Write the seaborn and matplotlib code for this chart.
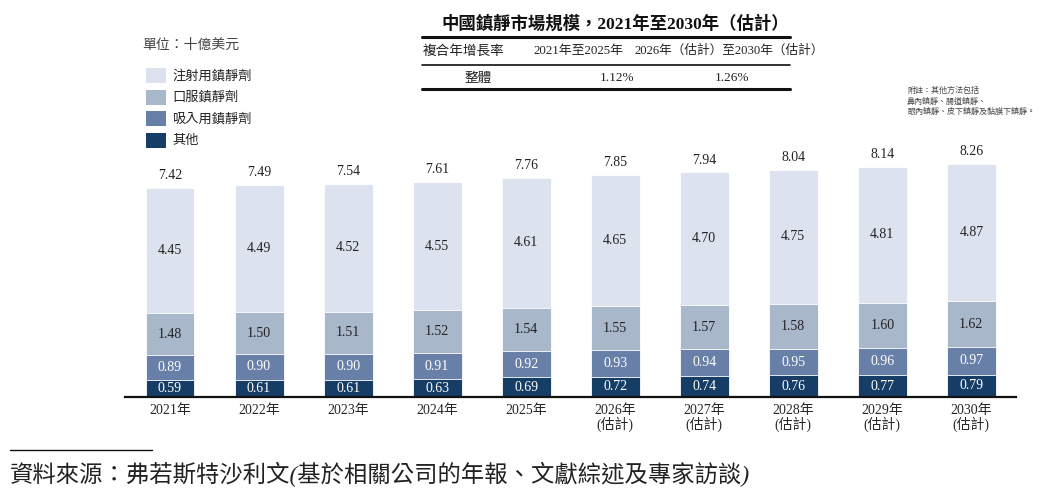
import matplotlib
matplotlib.use("Agg")
import matplotlib.pyplot as plt
import matplotlib.lines as mlines
import matplotlib.patches as mpatches
import numpy as np
import pandas as pd
import seaborn as sns

# data (unit: USD billion)
years = ["2021年", "2022年", "2023年", "2024年", "2025年",
         "2026年\n(估計)", "2027年\n(估計)", "2028年\n(估計)", "2029年\n(估計)", "2030年\n(估計)"]
injection = [4.45, 4.49, 4.52, 4.55, 4.61, 4.65, 4.70, 4.75, 4.81, 4.87]
oral = [1.48, 1.50, 1.51, 1.52, 1.54, 1.55, 1.57, 1.58, 1.60, 1.62]
inhaled = [0.89, 0.90, 0.90, 0.91, 0.92, 0.93, 0.94, 0.95, 0.96, 0.97]
other = [0.59, 0.61, 0.61, 0.63, 0.69, 0.72, 0.74, 0.76, 0.77, 0.79]
totals = [7.42, 7.49, 7.54, 7.61, 7.76, 7.85, 7.94, 8.04, 8.14, 8.26]

series_names = ["注射用鎮靜劑", "口服鎮靜劑", "吸入用鎮靜劑", "其他"]
colors = ["#dde3ee", "#a9b7cb", "#6880a8", "#163d66"]
text_colors = ["#222222", "#222222", "white", "white"]

FONT = ["Liberation Serif", "Noto Sans CJK TC"]
sns.set_style("white")
plt.rcParams["font.family"] = FONT

df = pd.DataFrame({"year": years, "other": other, "inhaled": inhaled,
                   "oral": oral, "injection": injection})
# stacked from the bottom: other, inhaled, oral, injection
stack_order = ["other", "inhaled", "oral", "injection"]
cum = df[stack_order].cumsum(axis=1)

fig = plt.figure(figsize=(10.5, 4.98), dpi=100)
ax = fig.add_axes([0.1195, 0.203, 0.848, 0.488])

# draw tallest cumulative first, then overlay the shorter ones
for col, color in zip(reversed(stack_order), colors):
    sns.barplot(x=df["year"], y=cum[col], color=color, width=0.55,
                edgecolor="white", linewidth=0.6, ax=ax, saturation=1)

# segment labels
for i in range(len(years)):
    bottom = 0
    for col, tc in zip(stack_order, reversed(text_colors)):
        v = df[col][i]
        ax.text(i, bottom + v / 2, f"{v:.2f}", ha="center", va="center",
                fontsize=10, color=tc)
        bottom += v
    ax.text(i, bottom + 0.2, f"{totals[i]:.2f}", ha="center", va="bottom",
            fontsize=10, color="#222222")

ax.set_xlim(-0.5, len(years) - 0.5)
ax.set_ylim(0, 8.6)
ax.set_xlabel("")
ax.set_ylabel("")
ax.set_yticks([])
for s in ["top", "right", "left"]:
    ax.spines[s].set_visible(False)
ax.spines["bottom"].set_color("#111111")
ax.spines["bottom"].set_linewidth(1.6)
ax.tick_params(axis="x", length=0, pad=5, labelsize=10)
for lbl in ax.get_xticklabels():
    lbl.set_linespacing(1.0)

# unit and legend
fig.text(142 / 1050, 1 - 45 / 498, "單位：十億美元", fontsize=10, color="#444444",
         va="center", ha="left")
for k, (name, color) in enumerate(zip(series_names, colors)):
    yc = 1 - (76 + 21.5 * k) / 498
    fig.patches.append(mpatches.Rectangle((146 / 1050, yc - 7.5 / 498), 20 / 1050, 15 / 498,
                                          transform=fig.transFigure, facecolor=color,
                                          edgecolor="none"))
    fig.text(172 / 1050, yc, name, fontsize=9.5, color="#222222", va="center", ha="left")

# title and CAGR table
fig.text(615 / 1050, 1 - 24 / 498, "中國鎮靜市場規模，2021年至2030年（估計）",
         fontsize=12.5, fontweight="bold", ha="center", va="center", color="#111111")
for yy, lw in [(37, 2.2), (65, 1.2), (89, 2.2)]:
    fig.add_artist(mlines.Line2D([422 / 1050, 790 / 1050], [1 - yy / 498] * 2,
                                 color="#111111", linewidth=lw, transform=fig.transFigure))
row1 = 1 - 51 / 498
row2 = 1 - 78 / 498
fig.text(423 / 1050, row1, "複合年增長率", fontsize=9.8, ha="left", va="center", color="#222222")
fig.text(578 / 1050, row1, "2021年至2025年", fontsize=9.3, ha="center", va="center", color="#222222")
fig.text(729 / 1050, row1, "2026年（估計）至2030年（估計）", fontsize=9.1, ha="center",
         va="center", color="#222222")
fig.text(478 / 1050, row2, "整體", fontsize=9.8, ha="center", va="center", color="#222222")
fig.text(617 / 1050, row2, "1.12%", fontsize=9.5, ha="center", va="center", color="#222222")
fig.text(732 / 1050, row2, "1.26%", fontsize=9.5, ha="center", va="center", color="#222222")

# footnote
fig.text(907 / 1050, 1 - 87 / 498,
         "附註：其他方法包括\n鼻內鎮靜、腸道鎮靜、\n眼內鎮靜、皮下鎮靜及黏膜下鎮靜。",
         fontsize=5.8, ha="left", va="top", color="#444444", linespacing=1.35)

# source
fig.add_artist(mlines.Line2D([10 / 1050, 152 / 1050], [1 - 450 / 498] * 2,
                             color="#111111", linewidth=1.0, transform=fig.transFigure))
fig.text(10 / 1050, 1 - 474 / 498,
         "資料來源：弗若斯特沙利文(基於相關公司的年報、文獻綜述及專家訪談)",
         fontsize=16.8, ha="left", va="center", color="#222222", style="italic")

fig.savefig("out.png", dpi=100)
